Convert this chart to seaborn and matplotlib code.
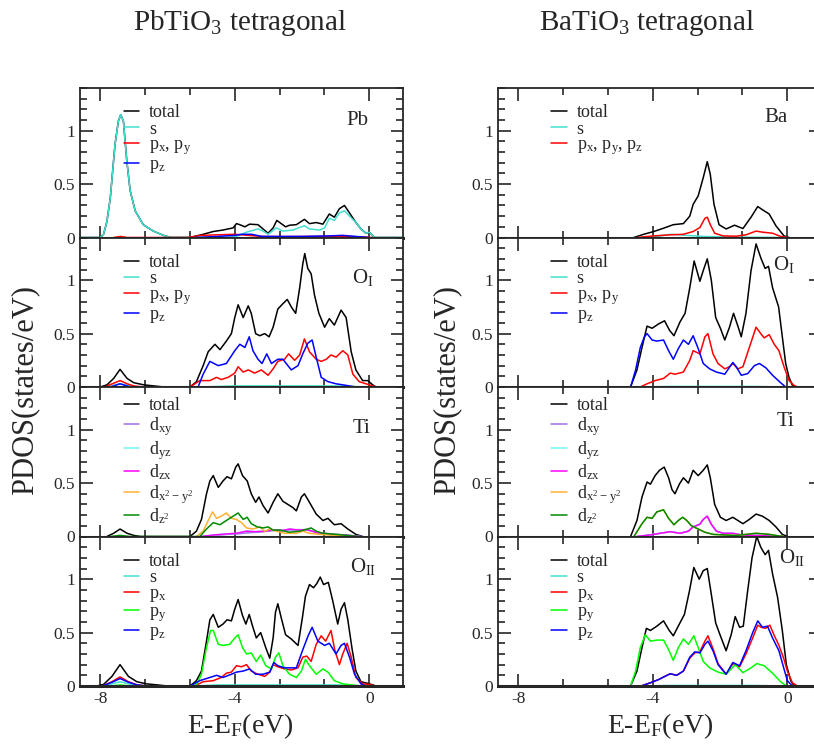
import matplotlib
matplotlib.use("Agg")
import matplotlib.pyplot as plt
from matplotlib.ticker import MultipleLocator
import seaborn as sns

# Projected DOS: (E - E_F in eV, states/eV)

# ---------- PbTiO3 tetragonal ----------
pt_pb_total = [(-8.6, 0), (-8.0, 0.0), (-7.9, 0.03), (-7.8, 0.15), (-7.7, 0.37), (-7.56, 0.87),
               (-7.46, 1.09), (-7.39, 1.15), (-7.31, 1.09), (-7.21, 0.72), (-7.11, 0.44),
               (-6.96, 0.25), (-6.72, 0.12), (-6.42, 0.06), (-6.12, 0.02), (-5.9, 0.0),
               (-5.33, 0.0), (-4.94, 0.03), (-4.64, 0.056), (-4.35, 0.07), (-4.05, 0.09),
               (-3.95, 0.13), (-3.85, 0.12), (-3.70, 0.10), (-3.56, 0.125), (-3.31, 0.12),
               (-3.16, 0.08), (-3.01, 0.04), (-2.86, 0.09), (-2.75, 0.16), (-2.62, 0.13),
               (-2.49, 0.10), (-2.37, 0.115), (-2.17, 0.12), (-1.93, 0.17), (-1.78, 0.13),
               (-1.58, 0.14), (-1.38, 0.125), (-1.19, 0.22), (-1.04, 0.19), (-0.89, 0.27),
               (-0.74, 0.30), (-0.59, 0.23), (-0.40, 0.14), (-0.25, 0.08), (-0.10, 0.04),
               (0.0, 0.05), (0.15, 0.0), (1.0, 0.0)]
pt_pb_s = [(-8.6, 0), (-8.0, 0.0), (-7.9, 0.03), (-7.8, 0.15), (-7.7, 0.37), (-7.56, 0.87),
           (-7.46, 1.09), (-7.39, 1.15), (-7.31, 1.09), (-7.21, 0.72), (-7.11, 0.44),
           (-6.96, 0.25), (-6.72, 0.12), (-6.42, 0.06), (-6.12, 0.02), (-5.9, 0.0),
           (-4.2, 0.0), (-3.95, 0.01), (-3.65, 0.05), (-3.31, 0.08), (-3.16, 0.06), (-3.01, 0.03),
           (-2.77, 0.09), (-2.57, 0.06), (-2.27, 0.07), (-1.93, 0.11), (-1.78, 0.08),
           (-1.48, 0.07), (-1.33, 0.09), (-1.19, 0.18), (-1.04, 0.16), (-0.89, 0.23),
           (-0.74, 0.25), (-0.59, 0.20), (-0.40, 0.14), (-0.25, 0.08), (-0.10, 0.04),
           (0.0, 0.05), (0.15, 0.0), (1.0, 0.0)]
pt_pb_pxy = [(-7.6, 0), (-7.4, 0.01), (-7.2, 0), (-5.4, 0), (-5.0, 0.02), (-4.5, 0.025),
             (-4.0, 0.03), (-3.6, 0.02), (-3.2, 0.01), (-2.5, 0.008), (-1.5, 0.01),
             (-0.8, 0.01), (-0.2, 0.005), (0.1, 0)]
pt_pb_pz = [(-5.2, 0), (-4.5, 0.01), (-4.0, 0.02), (-3.8, 0.03), (-3.5, 0.03), (-3.2, 0.01),
            (-2.0, 0.01), (-1.2, 0.015), (-0.8, 0.02), (-0.4, 0.01), (0.0, 0)]

pt_o1_total = [(-8.0, 0), (-7.8, 0.02), (-7.6, 0.08), (-7.41, 0.165), (-7.2, 0.08), (-7.0, 0.04),
               (-6.7, 0.02), (-6.4, 0.01), (-6.1, 0), (-5.33, 0), (-5.14, 0.05), (-4.94, 0.20),
               (-4.79, 0.33), (-4.59, 0.40), (-4.44, 0.35), (-4.25, 0.43), (-4.10, 0.50),
               (-4.00, 0.65), (-3.90, 0.77), (-3.75, 0.65), (-3.60, 0.76), (-3.51, 0.69),
               (-3.38, 0.50), (-3.26, 0.48), (-3.11, 0.50), (-2.98, 0.47), (-2.86, 0.56),
               (-2.72, 0.73), (-2.57, 0.78), (-2.44, 0.82), (-2.32, 0.75), (-2.19, 0.69),
               (-2.07, 0.93), (-1.98, 1.15), (-1.92, 1.25), (-1.83, 1.11), (-1.73, 1.06),
               (-1.63, 0.86), (-1.50, 0.69), (-1.33, 0.56), (-1.19, 0.64), (-1.04, 0.58),
               (-0.84, 0.72), (-0.69, 0.65), (-0.54, 0.33), (-0.40, 0.16), (-0.20, 0.06),
               (-0.05, 0.06), (0.10, 0.02), (0.2, 0)]
pt_o1_s = [(-7.8, 0), (-7.41, 0.03), (-7.0, 0), (-5.0, 0), (-4.0, 0.01), (-1.0, 0.01), (0.0, 0)]
pt_o1_pxy = [(-7.8, 0.01), (-7.6, 0.035), (-7.41, 0.06), (-7.2, 0.03), (-7.0, 0.01), (-6.7, 0),
             (-5.33, 0), (-5.04, 0.06), (-4.74, 0.06), (-4.54, 0.09), (-4.40, 0.07),
             (-4.20, 0.09), (-4.00, 0.13), (-3.90, 0.19), (-3.75, 0.14), (-3.60, 0.16),
             (-3.41, 0.13), (-3.21, 0.16), (-3.01, 0.11), (-2.86, 0.17), (-2.72, 0.24),
             (-2.52, 0.26), (-2.40, 0.31), (-2.22, 0.25), (-2.07, 0.30), (-1.93, 0.45),
             (-1.78, 0.33), (-1.58, 0.26), (-1.43, 0.24), (-1.28, 0.26), (-1.14, 0.30),
             (-0.99, 0.28), (-0.79, 0.34), (-0.64, 0.30), (-0.49, 0.12), (-0.30, 0.05),
             (-0.10, 0.03), (0.10, 0.01), (0.2, 0)]
pt_o1_pz = [(-7.7, 0), (-7.41, 0.03), (-7.1, 0), (-5.09, 0), (-4.94, 0.12), (-4.74, 0.24),
            (-4.49, 0.20), (-4.25, 0.22), (-4.00, 0.34), (-3.85, 0.40), (-3.70, 0.37),
            (-3.57, 0.47), (-3.46, 0.34), (-3.31, 0.26), (-3.19, 0.22), (-3.05, 0.31),
            (-2.91, 0.22), (-2.72, 0.26), (-2.57, 0.26), (-2.42, 0.20), (-2.32, 0.16),
            (-2.12, 0.20), (-1.98, 0.31), (-1.83, 0.41), (-1.70, 0.44), (-1.58, 0.28),
            (-1.43, 0.09), (-1.23, 0.05), (-0.99, 0.03), (-0.69, 0.015), (-0.4, 0)]

pt_ti_total = [(-7.8, 0), (-7.6, 0.03), (-7.41, 0.07), (-7.2, 0.03), (-7.0, 0.01), (-6.8, 0),
               (-5.33, 0), (-5.14, 0.05), (-4.99, 0.16), (-4.84, 0.40), (-4.74, 0.52),
               (-4.64, 0.57), (-4.49, 0.46), (-4.35, 0.52), (-4.23, 0.56), (-4.10, 0.54),
               (-3.97, 0.65), (-3.90, 0.68), (-3.77, 0.57), (-3.63, 0.52), (-3.51, 0.40),
               (-3.38, 0.32), (-3.28, 0.37), (-3.16, 0.29), (-3.01, 0.22), (-2.86, 0.32),
               (-2.72, 0.40), (-2.57, 0.33), (-2.42, 0.30), (-2.27, 0.27), (-2.17, 0.24),
               (-2.02, 0.37), (-1.93, 0.40), (-1.78, 0.32), (-1.58, 0.21), (-1.38, 0.15),
               (-1.23, 0.17), (-1.04, 0.11), (-0.84, 0.12), (-0.64, 0.07), (-0.40, 0.02),
               (-0.2, 0)]
pt_ti_dxy = [(-5.0, 0), (-4.6, 0.01), (-4.2, 0.02), (-3.9, 0.025), (-3.6, 0.035), (-3.3, 0.04),
             (-3.0, 0.05), (-2.7, 0.06), (-2.4, 0.06), (-2.1, 0.065), (-1.8, 0.06),
             (-1.6, 0.04), (-1.3, 0.03), (-1.0, 0.02), (-0.7, 0.015), (-0.4, 0.005), (-0.2, 0)]
pt_ti_dyz = [(-5.0, 0), (-4.6, 0.015), (-4.2, 0.025), (-3.95, 0.03), (-3.65, 0.05),
             (-3.4, 0.045), (-3.1, 0.05), (-2.9, 0.06), (-2.6, 0.055), (-2.37, 0.07),
             (-2.1, 0.06), (-1.9, 0.065), (-1.7, 0.05), (-1.5, 0.03), (-1.2, 0.02),
             (-0.9, 0.015), (-0.6, 0.01), (-0.3, 0)]
pt_ti_dzx = pt_ti_dyz
pt_ti_dx2y2 = [(-5.14, 0), (-4.94, 0.05), (-4.79, 0.15), (-4.66, 0.23), (-4.54, 0.17),
               (-4.40, 0.19), (-4.25, 0.22), (-4.10, 0.17), (-3.95, 0.16), (-3.80, 0.13),
               (-3.65, 0.08), (-3.46, 0.07), (-3.26, 0.09), (-3.11, 0.05), (-2.96, 0.07),
               (-2.77, 0.05), (-2.52, 0.03), (-2.17, 0.03), (-1.98, 0.05), (-1.78, 0.03),
               (-1.48, 0.02), (-0.99, 0.01), (-0.5, 0)]
pt_ti_dz2 = [(-7.7, 0), (-7.41, 0.01), (-7.1, 0), (-5.04, 0), (-4.84, 0.07), (-4.64, 0.13),
             (-4.44, 0.11), (-4.25, 0.15), (-4.05, 0.19), (-3.90, 0.22), (-3.75, 0.16),
             (-3.63, 0.18), (-3.51, 0.12), (-3.33, 0.09), (-3.16, 0.08), (-3.01, 0.09),
             (-2.86, 0.06), (-2.67, 0.06), (-2.37, 0.04), (-2.07, 0.05), (-1.73, 0.08),
             (-1.58, 0.05), (-1.38, 0.03), (-0.99, 0.02), (-0.5, 0.005), (-0.3, 0)]

pt_o2_total = [(-8.1, 0), (-7.9, 0.015), (-7.65, 0.09), (-7.41, 0.20), (-7.16, 0.09),
               (-6.91, 0.04), (-6.62, 0.02), (-6.3, 0.01), (-6.0, 0), (-5.33, 0),
               (-5.14, 0.05), (-4.99, 0.14), (-4.84, 0.42), (-4.74, 0.62), (-4.64, 0.67),
               (-4.49, 0.55), (-4.35, 0.58), (-4.23, 0.62), (-4.10, 0.61), (-4.00, 0.72),
               (-3.90, 0.81), (-3.77, 0.66), (-3.67, 0.58), (-3.57, 0.67), (-3.48, 0.57),
               (-3.36, 0.45), (-3.23, 0.50), (-3.08, 0.36), (-2.96, 0.26), (-2.86, 0.45),
               (-2.79, 0.69), (-2.72, 0.77), (-2.62, 0.64), (-2.49, 0.48), (-2.32, 0.44),
               (-2.12, 0.38), (-1.99, 0.64), (-1.90, 0.84), (-1.78, 0.95), (-1.66, 0.92),
               (-1.56, 0.96), (-1.46, 1.02), (-1.36, 0.95), (-1.22, 0.97), (-1.09, 0.80),
               (-0.94, 0.58), (-0.84, 0.72), (-0.74, 0.78), (-0.64, 0.62), (-0.51, 0.34),
               (-0.40, 0.14), (-0.25, 0.04), (-0.05, 0.025), (0.10, 0.01), (0.2, 0)]
pt_o2_s = [(-7.9, 0), (-7.65, 0.02), (-7.41, 0.04), (-7.16, 0.02), (-6.9, 0), (-5.2, 0),
           (-4.5, 0.01), (-1.0, 0.01), (0.0, 0)]
pt_o2_px = [(-7.9, 0.005), (-7.65, 0.04), (-7.41, 0.085), (-7.16, 0.04), (-6.9, 0.01),
            (-6.6, 0), (-5.2, 0), (-4.94, 0.04), (-4.64, 0.05), (-4.40, 0.08), (-4.25, 0.12),
            (-4.10, 0.13), (-3.95, 0.19), (-3.80, 0.18), (-3.65, 0.20), (-3.51, 0.14),
            (-3.31, 0.11), (-3.11, 0.09), (-2.96, 0.13), (-2.86, 0.20), (-2.72, 0.18),
            (-2.52, 0.16), (-2.32, 0.15), (-2.12, 0.17), (-1.98, 0.27), (-1.86, 0.28),
            (-1.73, 0.23), (-1.58, 0.39), (-1.43, 0.47), (-1.30, 0.42), (-1.14, 0.52),
            (-1.03, 0.34), (-0.89, 0.20), (-0.79, 0.30), (-0.66, 0.40), (-0.54, 0.27),
            (-0.40, 0.08), (-0.20, 0.02), (0.0, 0.015), (0.15, 0)]
pt_o2_py = [(-7.7, 0), (-7.41, 0.01), (-7.1, 0), (-5.3, 0), (-5.14, 0.01), (-4.99, 0.11),
            (-4.84, 0.36), (-4.72, 0.52), (-4.64, 0.52), (-4.49, 0.39), (-4.35, 0.38),
            (-4.15, 0.39), (-4.00, 0.45), (-3.90, 0.48), (-3.77, 0.36), (-3.65, 0.30),
            (-3.51, 0.31), (-3.36, 0.23), (-3.23, 0.29), (-3.08, 0.19), (-2.91, 0.16),
            (-2.79, 0.27), (-2.69, 0.31), (-2.57, 0.19), (-2.37, 0.11), (-2.17, 0.08),
            (-2.02, 0.14), (-1.90, 0.25), (-1.78, 0.19), (-1.58, 0.11), (-1.38, 0.16),
            (-1.23, 0.13), (-1.04, 0.05), (-0.79, 0.02), (-0.40, 0.005), (-0.2, 0)]
pt_o2_pz = [(-7.9, 0.005), (-7.65, 0.035), (-7.41, 0.07), (-7.16, 0.035), (-6.9, 0.01),
            (-6.6, 0), (-5.33, 0), (-5.04, 0.05), (-4.74, 0.08), (-4.54, 0.10), (-4.35, 0.08),
            (-4.10, 0.11), (-3.95, 0.13), (-3.75, 0.14), (-3.56, 0.16), (-3.38, 0.11),
            (-3.16, 0.11), (-2.96, 0.13), (-2.84, 0.22), (-2.72, 0.19), (-2.52, 0.17),
            (-2.32, 0.17), (-2.17, 0.17), (-1.99, 0.33), (-1.82, 0.47), (-1.70, 0.55),
            (-1.53, 0.42), (-1.33, 0.38), (-1.19, 0.40), (-0.99, 0.30), (-0.84, 0.38),
            (-0.74, 0.40), (-0.59, 0.27), (-0.44, 0.11), (-0.25, 0.02), (-0.1, 0)]

# ---------- BaTiO3 tetragonal ----------
bt_ba_total = [(-4.56, 0), (-4.27, 0.03), (-3.97, 0.056), (-3.68, 0.087), (-3.39, 0.12),
               (-3.09, 0.13), (-2.90, 0.20), (-2.80, 0.31), (-2.65, 0.39), (-2.50, 0.56),
               (-2.38, 0.71), (-2.29, 0.59), (-2.18, 0.31), (-2.03, 0.12), (-1.82, 0.08),
               (-1.57, 0.115), (-1.32, 0.084), (-1.08, 0.19), (-0.88, 0.29), (-0.74, 0.26),
               (-0.54, 0.22), (-0.34, 0.11), (-0.10, 0.015), (0.05, 0)]
bt_ba_s = [(-4.2, 0), (-3.88, 0.01), (-3.48, 0.03), (-3.0, 0.02), (-2.5, 0.01), (-1.5, 0.003),
           (0.0, 0)]
bt_ba_p = [(-4.47, 0), (-3.97, 0.015), (-3.48, 0.025), (-3.09, 0.03), (-2.80, 0.056),
           (-2.60, 0.093), (-2.45, 0.18), (-2.38, 0.19), (-2.29, 0.12), (-2.16, 0.04),
           (-1.91, 0.015), (-1.52, 0.012), (-1.23, 0.025), (-0.93, 0.06), (-0.74, 0.05),
           (-0.44, 0.04), (-0.20, 0.01), (0.0, 0)]

bt_o1_total = [(-4.66, 0), (-4.47, 0.16), (-4.32, 0.37), (-4.17, 0.57), (-4.02, 0.55),
               (-3.83, 0.59), (-3.65, 0.62), (-3.50, 0.53), (-3.37, 0.48), (-3.19, 0.61),
               (-3.04, 0.69), (-2.90, 0.93), (-2.77, 1.18), (-2.60, 0.99), (-2.50, 1.09),
               (-2.38, 1.20), (-2.26, 1.00), (-2.13, 0.65), (-1.99, 0.55), (-1.86, 0.44),
               (-1.72, 0.56), (-1.60, 0.69), (-1.47, 0.57), (-1.37, 0.47), (-1.23, 0.69),
               (-1.08, 1.09), (-0.93, 1.34), (-0.79, 1.21), (-0.66, 1.11), (-0.56, 1.13),
               (-0.44, 0.93), (-0.26, 0.75), (-0.15, 0.47), (-0.05, 0.22), (0.05, 0.09),
               (0.15, 0.015), (0.25, 0)]
bt_o1_s = [(-4.3, 0), (-3.5, 0.005), (-1.0, 0.005), (0.0, 0)]
bt_o1_pxy = [(-4.37, 0), (-4.17, 0.03), (-3.93, 0.06), (-3.68, 0.08), (-3.48, 0.13),
             (-3.34, 0.12), (-3.09, 0.14), (-2.90, 0.25), (-2.80, 0.34), (-2.60, 0.31),
             (-2.45, 0.47), (-2.36, 0.50), (-2.21, 0.31), (-2.06, 0.22), (-1.86, 0.17),
             (-1.72, 0.19), (-1.62, 0.22), (-1.47, 0.17), (-1.32, 0.19), (-1.13, 0.37),
             (-0.93, 0.56), (-0.79, 0.50), (-0.69, 0.46), (-0.54, 0.49), (-0.39, 0.40),
             (-0.25, 0.34), (-0.10, 0.19), (0.05, 0.06), (0.20, 0.015), (0.3, 0)]
bt_o1_pz = [(-4.66, 0), (-4.51, 0.16), (-4.37, 0.37), (-4.25, 0.47), (-4.17, 0.50),
            (-4.02, 0.44), (-3.88, 0.43), (-3.68, 0.44), (-3.53, 0.34), (-3.39, 0.26),
            (-3.24, 0.36), (-3.09, 0.44), (-2.94, 0.40), (-2.80, 0.48), (-2.65, 0.36),
            (-2.50, 0.22), (-2.31, 0.17), (-2.11, 0.14), (-1.86, 0.12), (-1.62, 0.23),
            (-1.52, 0.19), (-1.37, 0.11), (-1.18, 0.125), (-0.98, 0.20), (-0.83, 0.22),
            (-0.64, 0.18), (-0.44, 0.11), (-0.20, 0.04), (-0.05, 0.0)]

bt_ti_total = [(-4.66, 0), (-4.47, 0.15), (-4.32, 0.37), (-4.17, 0.51), (-4.07, 0.49),
               (-3.93, 0.57), (-3.80, 0.62), (-3.66, 0.65), (-3.53, 0.55), (-3.43, 0.44),
               (-3.34, 0.40), (-3.21, 0.49), (-3.09, 0.55), (-2.94, 0.50), (-2.80, 0.62),
               (-2.65, 0.57), (-2.50, 0.62), (-2.38, 0.67), (-2.29, 0.55), (-2.16, 0.30),
               (-1.99, 0.18), (-1.82, 0.15), (-1.62, 0.18), (-1.47, 0.15), (-1.32, 0.12),
               (-1.13, 0.16), (-0.93, 0.21), (-0.74, 0.19), (-0.54, 0.15), (-0.34, 0.09),
               (-0.15, 0.02), (0.0, 0)]
bt_ti_dxy = [(-4.47, 0), (-4.07, 0.015), (-3.78, 0.03), (-3.48, 0.045), (-3.19, 0.03),
             (-2.94, 0.05), (-2.80, 0.09), (-2.60, 0.115), (-2.50, 0.16), (-2.38, 0.19),
             (-2.26, 0.115), (-2.11, 0.05), (-1.91, 0.03), (-1.62, 0.03), (-1.32, 0.012),
             (-0.93, 0.01), (-0.54, 0.005), (-0.15, 0)]
bt_ti_dyz = bt_ti_dxy
bt_ti_dzx = bt_ti_dxy
bt_ti_dx2y2 = [(-4.56, 0), (-4.32, 0.12), (-4.17, 0.18), (-4.02, 0.17), (-3.88, 0.23),
               (-3.68, 0.25), (-3.53, 0.17), (-3.37, 0.11), (-3.24, 0.15), (-3.11, 0.18),
               (-2.99, 0.15), (-2.85, 0.10), (-2.65, 0.07), (-2.45, 0.04), (-2.21, 0.02),
               (-1.91, 0.015), (-1.52, 0.01), (-0.93, 0.03), (-0.54, 0.02), (-0.25, 0.005),
               (-0.1, 0)]
bt_ti_dz2 = bt_ti_dx2y2

bt_o2_total = [(-4.66, 0), (-4.47, 0.14), (-4.32, 0.36), (-4.19, 0.54), (-4.07, 0.52),
               (-3.88, 0.56), (-3.68, 0.61), (-3.51, 0.52), (-3.39, 0.47), (-3.21, 0.58),
               (-3.06, 0.67), (-2.91, 0.89), (-2.78, 1.11), (-2.62, 1.00), (-2.50, 1.08),
               (-2.38, 1.10), (-2.29, 0.92), (-2.13, 0.59), (-1.99, 0.47), (-1.82, 0.33),
               (-1.67, 0.48), (-1.55, 0.65), (-1.42, 0.55), (-1.31, 0.56), (-1.18, 0.89),
               (-1.05, 1.20), (-0.91, 1.40), (-0.79, 1.30), (-0.66, 1.23), (-0.56, 1.27),
               (-0.44, 1.05), (-0.29, 0.83), (-0.15, 0.52), (-0.03, 0.20), (0.10, 0.05),
               (0.2, 0)]
bt_o2_s = [(-4.3, 0), (-3.5, 0.005), (-1.0, 0.005), (0.0, 0)]
bt_o2_px = [(-4.35, 0), (-4.07, 0.03), (-3.83, 0.06), (-3.48, 0.115), (-3.29, 0.10),
            (-3.09, 0.14), (-2.90, 0.26), (-2.75, 0.31), (-2.60, 0.32), (-2.45, 0.42),
            (-2.36, 0.47), (-2.21, 0.35), (-2.06, 0.21), (-1.82, 0.11), (-1.62, 0.21),
            (-1.42, 0.18), (-1.23, 0.30), (-1.03, 0.45), (-0.88, 0.57), (-0.78, 0.55),
            (-0.65, 0.54), (-0.52, 0.57), (-0.40, 0.48), (-0.25, 0.38), (-0.10, 0.25),
            (0.0, 0.14), (0.15, 0.03), (0.3, 0)]
bt_o2_py = [(-4.66, 0), (-4.51, 0.14), (-4.37, 0.36), (-4.22, 0.48), (-4.07, 0.42),
            (-3.88, 0.43), (-3.68, 0.43), (-3.53, 0.34), (-3.39, 0.24), (-3.24, 0.36),
            (-3.09, 0.44), (-2.94, 0.39), (-2.78, 0.47), (-2.65, 0.36), (-2.50, 0.23),
            (-2.31, 0.17), (-2.06, 0.13), (-1.82, 0.11), (-1.55, 0.20), (-1.32, 0.125),
            (-1.08, 0.17), (-0.91, 0.21), (-0.69, 0.19), (-0.44, 0.12), (-0.20, 0.04),
            (-0.05, 0.005), (0.05, 0)]
bt_o2_pz = [(-4.35, 0), (-4.07, 0.03), (-3.83, 0.06), (-3.48, 0.115), (-3.29, 0.10),
            (-3.09, 0.14), (-2.90, 0.27), (-2.75, 0.32), (-2.60, 0.31), (-2.45, 0.39),
            (-2.36, 0.42), (-2.21, 0.33), (-2.06, 0.20), (-1.82, 0.11), (-1.62, 0.22),
            (-1.42, 0.19), (-1.23, 0.33), (-1.03, 0.50), (-0.88, 0.61), (-0.74, 0.55),
            (-0.59, 0.56), (-0.44, 0.45), (-0.25, 0.33), (-0.10, 0.16), (0.0, 0.05),
            (0.15, 0)]

# colours (xmgrace-like)
BLACK, TURQ, RED, BLUE, LIME = "black", "#40E0D0", "#FF0000", "#0000FF", "#00FF00"
PURPLE, CYAN, MAGENTA, ORANGE, GREEN4 = "#A070E0", "#70F5F5", "#FF00FF", "#FFB030", "#008B00"

P_LABELS_XY = ["total", "s", "p$_x$, p$_y$", "p$_z$"]
D_LABELS = ["total", "d$_{xy}$", "d$_{yz}$", "d$_{zx}$", "d$_{x^2 - y^2}$", "d$_{z^2}$"]
O2_LABELS = ["total", "s", "p$_x$", "p$_y$", "p$_z$"]
BA_LABELS = ["total", "s", "p$_x$, p$_y$, p$_z$"]

sns.set_style("ticks")
plt.rcParams["font.family"] = ["Liberation Serif", "DejaVu Serif"]
plt.rcParams["mathtext.default"] = "regular"

fig = plt.figure(figsize=(8.14, 7.49), dpi=100)

W, H = 323 / 814, 149.5 / 749
LEFTS = [80 / 814, 498 / 814]
TOP = 1 - 88 / 749

panels = [
    # column 0 : PbTiO3
    (0, 0, [pt_pb_total, pt_pb_s, pt_pb_pxy, pt_pb_pz], [BLACK, TURQ, RED, BLUE], P_LABELS_XY,
     "Pb", (0.86, 0.78)),
    (0, 1, [pt_o1_total, pt_o1_s, pt_o1_pxy, pt_o1_pz], [BLACK, TURQ, RED, BLUE], P_LABELS_XY,
     "O$_{I}$", (0.875, 0.73)),
    (0, 2, [pt_ti_total, pt_ti_dxy, pt_ti_dyz, pt_ti_dzx, pt_ti_dx2y2, pt_ti_dz2],
     [BLACK, PURPLE, CYAN, MAGENTA, ORANGE, GREEN4], D_LABELS, "Ti", (0.87, 0.72)),
    (0, 3, [pt_o2_total, pt_o2_s, pt_o2_px, pt_o2_py, pt_o2_pz],
     [BLACK, TURQ, RED, LIME, BLUE], O2_LABELS, "O$_{II}$", (0.875, 0.80)),
    # column 1 : BaTiO3
    (1, 0, [bt_ba_total, bt_ba_s, bt_ba_p], [BLACK, TURQ, RED], BA_LABELS, "Ba", (0.86, 0.80)),
    (1, 1, [bt_o1_total, bt_o1_s, bt_o1_pxy, bt_o1_pz], [BLACK, TURQ, RED, BLUE], P_LABELS_XY,
     "O$_{I}$", (0.885, 0.82)),
    (1, 2, [bt_ti_total, bt_ti_dxy, bt_ti_dyz, bt_ti_dzx, bt_ti_dx2y2, bt_ti_dz2],
     [BLACK, PURPLE, CYAN, MAGENTA, ORANGE, GREEN4], D_LABELS, "Ti", (0.89, 0.77)),
    (1, 3, [bt_o2_total, bt_o2_s, bt_o2_px, bt_o2_py, bt_o2_pz],
     [BLACK, TURQ, RED, LIME, BLUE], O2_LABELS, "O$_{II}$", (0.91, 0.86)),
]

LEGEND_X = [0.135, 0.165]

for col, row, curves, colors, labels, atom, atom_pos in panels:
    ax = fig.add_axes([LEFTS[col], TOP - (row + 1) * H, W, H])
    for pts, c, lab in zip(curves, colors, labels):
        e, v = zip(*pts)
        sns.lineplot(x=list(e), y=list(v), ax=ax, color=c, lw=1.1, label=lab,
                     estimator=None, sort=False)
    ax.set_xlim(-8.6, 1.0)
    ax.set_ylim(0, 1.4)
    ax.xaxis.set_major_locator(MultipleLocator(4))
    ax.xaxis.set_minor_locator(MultipleLocator(4 / 3))
    ax.yaxis.set_major_locator(MultipleLocator(0.5))
    ax.yaxis.set_minor_locator(MultipleLocator(0.1))
    ax.set_yticks([0, 0.5, 1])
    ax.set_yticklabels(["0", "0.5", "1"])
    ax.tick_params(which="both", direction="in", top=True, right=True, width=1.2,
                   labelsize=12.5)
    ax.tick_params(which="major", length=9)
    ax.tick_params(which="minor", length=5)
    if row < 3:
        ax.tick_params(labelbottom=False)
    else:
        ax.set_xticks([-8, -4, 0])
        ax.set_xticklabels(["-8", "-4", "0"])
    for side in ["left", "right", "top"]:
        ax.spines[side].set_linewidth(1.3)
    ax.spines["bottom"].set_linewidth(2.2)
    ax.set_xlabel("")
    ax.set_ylabel("")
    ax.text(atom_pos[0], atom_pos[1], atom, transform=ax.transAxes, ha="center",
            va="center", fontsize=15)
    # the d-orbital legends are spread out more, the others are packed tightly
    if row == 2:
        leg_y, spacing = 0.93, 0.04
    else:
        leg_y, spacing = 0.89, -0.05
    ax.legend(loc="upper left", bbox_to_anchor=(LEGEND_X[col], leg_y), frameon=False,
              fontsize=13, handlelength=0.85, handletextpad=0.55, labelspacing=spacing,
              borderaxespad=0, borderpad=0)

# titles and axis labels
fig.text(240 / 814, 1 - 30 / 749, "PbTiO$_3$ tetragonal", ha="center", va="baseline",
         fontsize=21)
fig.text(647 / 814, 1 - 30 / 749, "BaTiO$_3$ tetragonal", ha="center", va="baseline",
         fontsize=21)
for xc in [240 / 814, 660 / 814]:
    fig.text(xc, 1 - 733 / 749, "E-E$_F$(eV)", ha="center", va="baseline", fontsize=20)
for xc in [25 / 814, 447 / 814]:
    fig.text(xc, 1 - 390 / 749, "PDOS(states/eV)", ha="center", va="center",
             rotation=90, fontsize=22)

fig.savefig("out.png", dpi=100)
